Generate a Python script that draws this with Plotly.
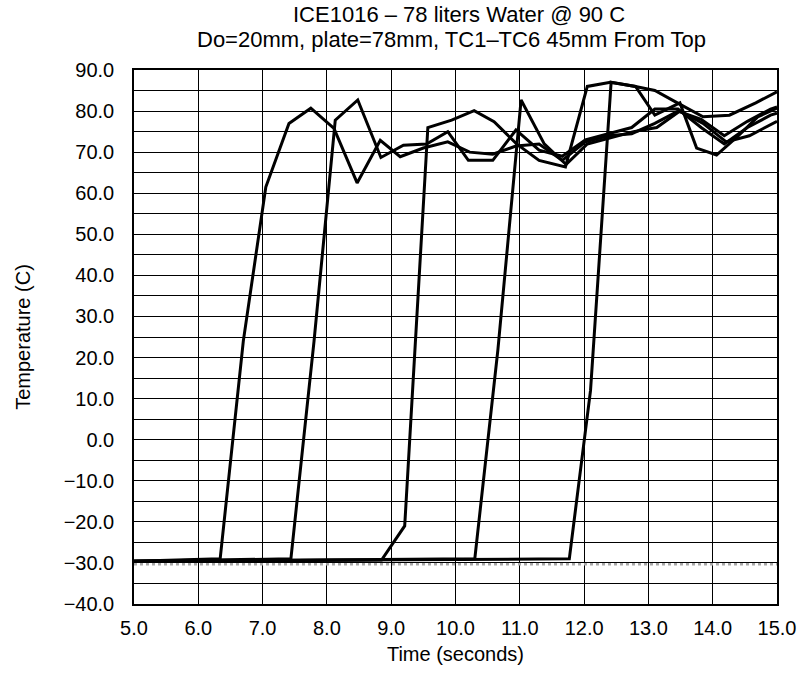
import plotly.graph_objects as go

# Thermocouple readings (time in s, temperature in C)
tc1_t = [5.0, 6.34, 6.70, 7.05, 7.41, 7.75, 8.11, 8.47, 8.83, 9.14, 9.50, 9.88, 10.22, 10.58,
         10.94, 11.30, 11.66, 12.02, 12.38, 12.74, 13.10, 13.46, 13.82, 14.18, 14.54, 14.90, 15.0]
tc1_v = [-29.6, -29.0, 24.0, 61.5, 77.0, 80.7, 75.8, 62.5, 72.9, 68.9, 71.0, 72.5, 70.0, 69.5,
         71.5, 72.0, 68.0, 72.5, 74.0, 74.5, 77.0, 80.0, 78.0, 74.0, 77.5, 80.5, 81.0]

tc2_t = [5.0, 7.44, 7.80, 8.13, 8.48, 8.84, 9.19, 9.55, 9.88, 10.20, 10.58, 10.94, 11.30, 11.66,
         12.02, 12.38, 12.74, 13.10, 13.46, 13.82, 14.18, 14.54, 14.90, 15.0]
tc2_v = [-29.6, -29.0, 24.0, 77.8, 82.7, 68.7, 71.7, 72.0, 75.0, 68.0, 68.0, 75.4, 70.5, 69.0,
         73.0, 74.5, 76.0, 80.5, 80.5, 76.0, 72.0, 76.0, 79.0, 79.5]

tc3_t = [5.0, 8.85, 9.21, 9.57, 9.94, 10.29, 10.60, 10.95, 11.30, 11.71, 12.05, 12.41, 12.80,
         13.10, 13.45, 13.85, 14.26, 14.67, 15.0]
tc3_v = [-29.6, -29.3, -21.0, 76.0, 77.8, 80.1, 77.4, 72.0, 68.0, 66.4, 86.0, 87.0, 86.0,
         85.0, 82.0, 78.6, 79.0, 82.0, 84.7]

tc4_t = [5.0, 10.30, 10.66, 11.02, 11.38, 11.72, 12.05, 12.41, 12.77, 13.13, 13.49, 13.85,
         14.21, 14.57, 14.93, 15.0]
tc4_v = [-29.6, -29.0, 22.0, 82.7, 72.0, 67.0, 72.0, 73.5, 75.0, 76.0, 80.0, 77.0,
         72.5, 74.0, 77.0, 77.5]

tc5_t = [5.0, 11.77, 12.10, 12.42, 12.80, 13.10, 13.49, 13.75, 14.06, 14.40, 14.70, 15.0]
tc5_v = [-29.6, -29.0, 12.0, 87.0, 86.0, 79.0, 82.0, 71.0, 69.3, 74.0, 78.6, 80.7]

# sixth channel stays at the starting temperature
tc6_t = [5.0, 15.0]
tc6_v = [-30.3, -30.3]

x_ticks = [5, 6, 7, 8, 9, 10, 11, 12, 13, 14, 15]
y_ticks = [-40, -30, -20, -10, 0, 10, 20, 30, 40, 50, 60, 70, 80, 90]

title_lines = ["ICE1016 – 78 liters Water @ 90 C",
               "Do=20mm, plate=78mm, TC1–TC6 45mm From Top"]

fig = go.Figure()

fig.add_trace(go.Scatter(x=tc6_t, y=tc6_v, mode="lines",
                         line=dict(color="#a8a8a8", width=2.5, dash="dot"),
                         name="TC6", showlegend=False))

for t, v, name in [(tc1_t, tc1_v, "TC1"), (tc2_t, tc2_v, "TC2"), (tc3_t, tc3_v, "TC3"),
                   (tc4_t, tc4_v, "TC4"), (tc5_t, tc5_v, "TC5")]:
    fig.add_trace(go.Scatter(x=t, y=v, mode="lines",
                             line=dict(color="black", width=3),
                             name=name, showlegend=False))

font_family = "Liberation Sans, Arial, sans-serif"

# two-line heading above the plot area
fig.add_annotation(text=title_lines[0], xref="paper", yref="paper", x=0.505, y=1.103,
                   xanchor="center", yanchor="middle", showarrow=False,
                   font=dict(family=font_family, size=22, color="black"))
fig.add_annotation(text=title_lines[1], xref="paper", yref="paper", x=0.494, y=1.057,
                   xanchor="center", yanchor="middle", showarrow=False,
                   font=dict(family=font_family, size=22, color="black"))

fig.update_layout(
    width=808, height=674,
    margin=dict(l=134, r=28, t=70, b=70),
    paper_bgcolor="white", plot_bgcolor="white",
    font=dict(family=font_family, size=20, color="black"),
    xaxis=dict(range=[5, 15], tickvals=x_ticks, tickformat=".1f",
               showgrid=True, gridcolor="black", gridwidth=1,
               zeroline=False, showline=True, linecolor="black", linewidth=1.5, mirror=True,
               ticks="", ticklabelstandoff=5,
               title=dict(text="Time (seconds)", standoff=9, font=dict(size=20))),
    yaxis=dict(range=[-40, 90], tickvals=y_ticks, tickformat=".1f",
               showgrid=True, gridcolor="black", gridwidth=1,
               minor=dict(dtick=5, showgrid=True, gridcolor="black", gridwidth=1),
               zeroline=False, showline=True, linecolor="black", linewidth=1.5, mirror=True,
               ticks="", ticklabelstandoff=14,
               title=dict(text="Temperature (C)", standoff=28, font=dict(size=20))),
)

fig.write_html("out.html")
